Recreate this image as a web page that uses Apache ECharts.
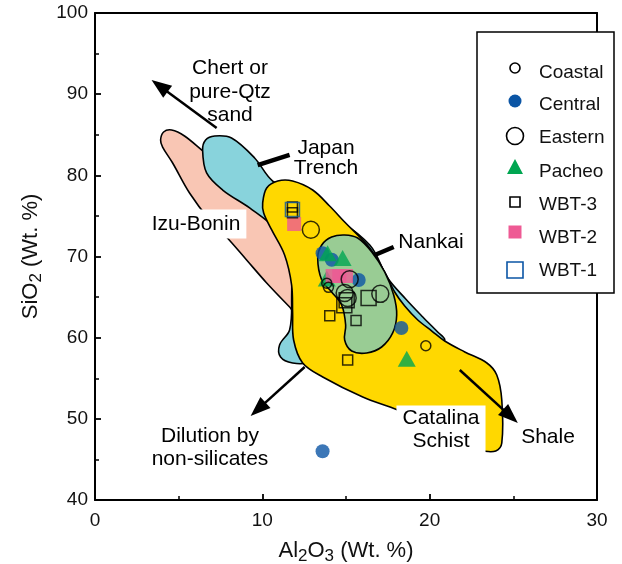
<!DOCTYPE html>
<html><head><meta charset="utf-8">
<script src="https://cdn.jsdelivr.net/npm/echarts@6/dist/echarts.min.js"></script>
<style>html,body{margin:0;padding:0;background:#fff}#c{width:622px;height:564px}</style>
</head><body><div id="c"></div>
<script>
const FONT = '"Liberation Sans", Arial, Helvetica, sans-serif';

// ---- axes ----
const xRange = [0, 30], xStep = 10;
const yRange = [40, 100], yStep = 10;

// ---- field outlines (Al2O3, SiO2) ----
const izuBonin = [[3.92,84.35],[4.10,85.34],[4.58,85.59],[5.35,84.85],[6.85,82.38],[9.24,79.43],[12.23,76.35],[14.62,73.51],[15.82,71.42],[13.43,64.64],[12.11,62.79],[11.63,63.78],[10.26,66.74],[9.06,69.57],[7.86,72.40],[6.85,74.50],[5.65,77.82],[4.64,81.52],[4.04,83.49]];
const japanTrench = [[6.43,83.12],[6.61,84.35],[7.15,84.85],[8.16,84.60],[9.54,82.14],[10.62,79.30],[12.23,77.70],[14.02,75.36],[16.42,71.42],[17.49,67.35],[18.57,64.77],[19.59,62.55],[20.48,60.70],[20.90,59.80],[20.72,59.35],[20.13,59.47],[18.21,60.95],[14.02,59.71],[12.71,57.00],[11.81,56.88],[11.09,57.62],[11.03,59.10],[11.63,60.95],[11.75,64.64],[11.63,70.43],[10.86,73.27],[9.24,75.98],[7.63,78.19],[6.67,80.29]];
const catalinaSchist = [[10.02,76.59],[10.26,78.44],[10.92,79.30],[11.81,79.30],[13.01,78.19],[14.02,76.22],[14.92,74.25],[16.42,71.05],[17.31,68.09],[17.91,65.63],[18.51,63.90],[19.29,62.18],[20.13,60.82],[20.90,59.59],[22.10,58.24],[23.42,56.88],[24.01,55.40],[24.31,52.32],[24.31,47.02],[23.95,46.04],[23.17,46.04],[22.40,46.41],[20.01,49.24],[18.09,51.09],[16.00,52.69],[13.61,55.16],[12.41,56.88],[11.87,59.71],[11.81,63.04],[11.75,66.49],[11.33,70.19],[10.56,73.27],[10.08,75.36]];
const nankai = [[13.31,69.82],[13.55,71.42],[14.14,72.40],[14.92,72.65],[15.70,72.28],[16.54,70.56],[17.31,68.09],[17.85,65.26],[18.03,62.79],[17.79,60.58],[17.13,58.85],[16.24,58.11],[15.34,58.36],[14.92,59.71],[14.98,61.56],[14.74,64.03],[14.14,65.63],[13.55,67.11]];
const regionNames = ['Izu-Bonin','Japan Trench','Catalina Schist','Nankai'];
const regionShapes = [izuBonin, japanTrench, catalinaSchist, nankai];

// ---- samples (Al2O3, SiO2) ----
const coastal = [[13.85,66.7],[13.95,66.2],[19.77,59.0]];
const central = [[13.6,70.4],[14.15,69.6],[15.76,67.1],[18.31,61.2],[13.6,46.0]];
const eastern = [[12.9,73.3],[15.22,67.2],[14.92,65.5],[15.1,64.9],[17.05,65.4]];
const pacheo = [[13.9,70.4],[14.8,69.8],[13.85,67.3],[18.63,57.4]];
const wbt3 = [[11.8,76.1],[11.8,75.4],[14.03,62.7],[15.6,62.1],[15.1,57.25]];
const wbt3Large = [[15.04,64.6],[16.35,64.9],[14.9,64.0]];
const wbt2 = [[11.9,74.0],[14.2,67.6],[14.6,67.6],[15.0,67.6]];
const wbt1 = [[11.8,75.8]];

// ---- trend arrows and leaders [x1,y1,x2,y2] ----
const trendArrows = [[7.27,85.83,3.38,91.75],[12.53,56.39,9.30,50.35],[21.80,56.02,25.27,49.49]];
const leaderLines = [[9.72,81.27,11.63,82.51],[16.72,70.19,17.85,71.17]];

const regionColors = ['#F9C6B4','#88D3DC','#FFD800','#99CC94'];

const axisCommon = {
  type: 'value',
  splitLine: {show: false},
  axisLine: {show: true, onZero: false, lineStyle: {color: '#000', width: 2}},
  axisTick: {show: true, inside: true, length: 6, lineStyle: {color: '#000', width: 1.8}},
  minorTick: {show: true, splitNumber: 2, length: 4, lineStyle: {color: '#000', width: 1.5}},
  axisLabel: {color: '#111', fontSize: 19, fontFamily: FONT}
};
const frameAxis = {
  type: 'value', splitLine: {show: false},
  axisLine: {show: true, onZero: false, lineStyle: {color: '#000', width: 2}},
  axisTick: {show: false}, axisLabel: {show: false}
};

function polyItem(params, api) {
  const pts = regionShapes[api.value(2)].map(p => api.coord(p));
  return {
    type: 'polygon',
    shape: {points: pts, smooth: 0.35},
    style: {fill: regionColors[api.value(2)], stroke: '#000', lineWidth: 1.6}
  };
}
function arrowItem(params, api) {
  const a = api.coord([api.value(0), api.value(1)]);
  const b = api.coord([api.value(2), api.value(3)]);
  const dx = b[0]-a[0], dy = b[1]-a[1], L = Math.hypot(dx, dy);
  const ux = dx/L, uy = dy/L, hl = 20, hw = 7.5;
  const bx = b[0]-ux*hl, by = b[1]-uy*hl;
  return {type: 'group', children: [
    {type: 'line', shape: {x1: a[0], y1: a[1], x2: bx+ux*2, y2: by+uy*2}, style: {stroke: '#000', lineWidth: 2.5}},
    {type: 'polygon', shape: {points: [b, [bx-uy*hw, by+ux*hw], [bx+uy*hw, by-ux*hw]]}, style: {fill: '#000'}}
  ]};
}
function leaderItem(params, api) {
  const a = api.coord([api.value(0), api.value(1)]);
  const b = api.coord([api.value(2), api.value(3)]);
  return {type: 'line', shape: {x1: a[0], y1: a[1], x2: b[0], y2: b[1]}, style: {stroke: '#000', lineWidth: 4.5}};
}

const open = (c) => ({color: 'rgba(0,0,0,0)', borderColor: c, borderWidth: 1.5});

function txt(x, y, text, extra) {
  return Object.assign({type: 'text', z: 100, x: x, y: y, style: Object.assign({
    text: text, fontSize: 21, fontFamily: FONT, fill: '#000', align: 'center', verticalAlign: 'middle', lineHeight: 22
  }, extra || {})});
}

// legend
const legendRows = [
  {name: 'Coastal', shape: 'circle', r: 5, fill: '#fff', stroke: '#000'},
  {name: 'Central', shape: 'circle', r: 6.5, fill: '#0B55A5', stroke: null},
  {name: 'Eastern', shape: 'circle', r: 8.5, fill: '#fff', stroke: '#000'},
  {name: 'Pacheo', shape: 'tri', w: 16, h: 14, fill: '#00A651', stroke: null},
  {name: 'WBT-3', shape: 'rect', s: 10, fill: '#fff', stroke: '#000'},
  {name: 'WBT-2', shape: 'rect', s: 13, fill: '#EE5A94', stroke: null},
  {name: 'WBT-1', shape: 'rect', s: 16, fill: '#fff', stroke: '#0B55A5'}
];
const legendSymY = [68, 101, 136, 167, 202, 232, 270];
const legendTxtY = [73, 105, 138, 172, 205, 238, 271];
const legendEls = [{type: 'rect', z: 100, shape: {x: 477, y: 32, width: 137, height: 261}, style: {fill: '#fff', stroke: '#000', lineWidth: 1.5}}];
legendRows.forEach((r, i) => {
  const cx = 515, cy = legendSymY[i];
  const st = {fill: r.fill, stroke: r.stroke || null, lineWidth: 1.6};
  if (r.shape === 'circle') legendEls.push({type: 'circle', z: 101, shape: {cx: cx, cy: cy, r: r.r}, style: st});
  else if (r.shape === 'rect') legendEls.push({type: 'rect', z: 101, shape: {x: cx-r.s/2, y: cy-r.s/2, width: r.s, height: r.s}, style: st});
  else legendEls.push({type: 'polygon', z: 101, shape: {points: [[cx, cy-r.h/2-1], [cx-r.w/2, cy+r.h/2], [cx+r.w/2, cy+r.h/2]]}, style: st});
  legendEls.push({type: 'text', z: 101, x: 539, y: legendTxtY[i], style: {text: r.name, fontSize: 19, fontFamily: FONT, fill: '#111', align: 'left', verticalAlign: 'middle'}});
});

const chart = echarts.init(document.getElementById('c'), null, {renderer: 'canvas'});
chart.setOption({
  animation: false,
  backgroundColor: '#fff',
  grid: {left: 95, right: 25, top: 13, bottom: 64, containLabel: false, outerBoundsMode: 'none'},
  xAxis: [
    Object.assign({}, axisCommon, {min: xRange[0], max: xRange[1], interval: xStep,
      axisLabel: Object.assign({}, axisCommon.axisLabel, {margin: 11}),
      name: 'Al{s|2}O{s|3} (Wt. %)', nameLocation: 'middle', nameGap: 36,
      nameTextStyle: {fontSize: 22, fontFamily: FONT, color: '#111',
        rich: {s: {fontSize: 17, fontFamily: FONT, color: '#111', padding: [12, 0, 0, 0]}}}}),
    Object.assign({}, frameAxis, {position: 'top', min: xRange[0], max: xRange[1]})
  ],
  yAxis: [
    Object.assign({}, axisCommon, {min: yRange[0], max: yRange[1], interval: yStep,
      axisLabel: Object.assign({}, axisCommon.axisLabel, {margin: 7}),
      name: 'SiO{s|2} (Wt. %)', nameLocation: 'middle', nameGap: 50,
      nameTextStyle: {fontSize: 22, fontFamily: FONT, color: '#111',
        rich: {s: {fontSize: 17, fontFamily: FONT, color: '#111', padding: [12, 0, 0, 0]}}}}),
    Object.assign({}, frameAxis, {position: 'right', min: yRange[0], max: yRange[1]})
  ],
  graphic: [
    txt(230, 92, 'Chert or\npure-Qtz\nsand', {lineHeight: 23.5}),
    txt(326, 158, 'Japan\nTrench', {lineHeight: 20}),
    txt(196, 224, 'Izu-Bonin', {backgroundColor: '#fff', padding: [4, 6, 3, 6]}),
    txt(431, 242, 'Nankai'),
    txt(441, 430, 'Catalina\nSchist', {lineHeight: 23, backgroundColor: '#fff', padding: [2, 6, 1, 6]}),
    txt(548, 437, 'Shale'),
    txt(210, 448, 'Dilution by\nnon-silicates', {lineHeight: 23})
  ].concat(legendEls),
  series: [
    {type: 'custom', name: 'fields', renderItem: polyItem, z: 1,
      data: regionShapes.map((r, i) => [r[0][0], r[0][1], i]), silent: true},
    {type: 'custom', name: 'leaders', renderItem: leaderItem, z: 2, data: leaderLines, silent: true},
    {type: 'custom', name: 'trends', renderItem: arrowItem, z: 2, data: trendArrows, silent: true},
    {type: 'scatter', name: 'Central', data: central, symbol: 'circle', symbolSize: 14, itemStyle: {color: '#0B55A5'}, z: 3},
    {type: 'scatter', name: 'Pacheo', data: pacheo, symbol: 'triangle', symbolSize: [18, 16], itemStyle: {color: '#00A651'}, z: 4},
    {type: 'scatter', name: 'WBT-2', data: wbt2, symbol: 'rect', symbolSize: 14, itemStyle: {color: '#EE5A94'}, z: 5},
    {type: 'scatter', name: 'Coastal', data: coastal, symbol: 'circle', symbolSize: 10, itemStyle: open('#000'), z: 6},
    {type: 'scatter', name: 'Eastern', data: eastern, symbol: 'circle', symbolSize: 17, itemStyle: open('#000'), z: 6},
    {type: 'scatter', name: 'WBT-3', data: wbt3, symbol: 'rect', symbolSize: 10, itemStyle: open('#000'), z: 6},
    {type: 'scatter', name: 'WBT-3 ', data: wbt3Large, symbol: 'rect', symbolSize: 15, itemStyle: open('#000'), z: 6},
    {type: 'scatter', name: 'WBT-1', data: wbt1, symbol: 'rect', symbolSize: 14, itemStyle: open('#0B55A5'), z: 6}
  ]
});
</script></body></html>
